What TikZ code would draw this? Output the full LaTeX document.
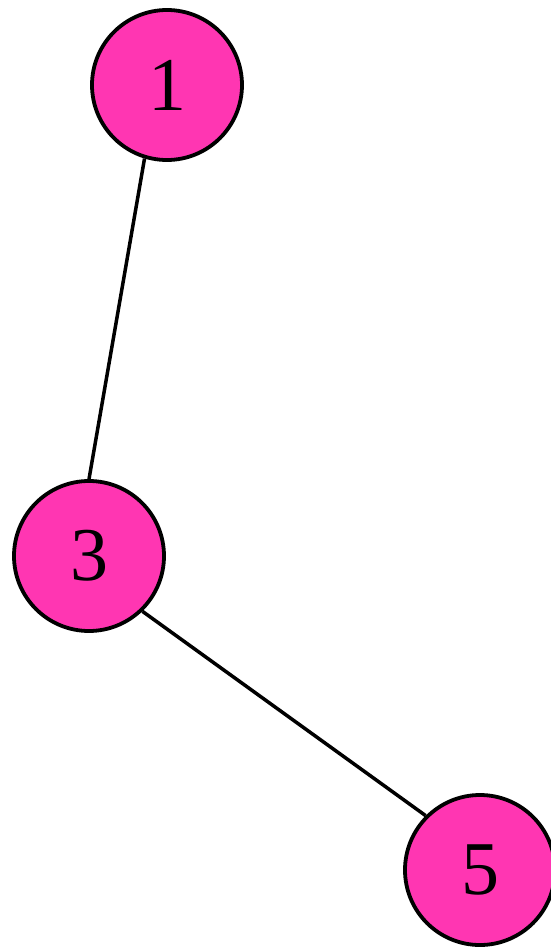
\documentclass[tikz,border=0pt]{standalone}
\usepackage{fontspec}
\setmainfont{Liberation Serif}
\usepackage{xcolor}
\definecolor{cNode}{HTML}{FF36B2}
\usetikzlibrary{positioning}
\tikzset{
  node-vertex/.style={draw=black,line width=3.8pt,circle,fill=cNode,
    minimum size=150pt,inner sep=0pt,font=\fontsize{76}{76}\selectfont},
  edge-line/.style={draw=black,line width=3.5pt},
}
\begin{document}
\begin{tikzpicture}[x=1pt,y=-1pt]
  \useasboundingbox (0,0) rectangle (550,947);
  \node[node-vertex] (v1) at (167,85)  {1};
  \node[node-vertex] (v3) at (89,556)  {3};
  \node[node-vertex] (v5) at (480,870) {5};
  \draw[edge-line] (v1.253) -- (v3.90);
  \draw[edge-line] (v3.-46) -- (v5.135);
\end{tikzpicture}
\end{document}
